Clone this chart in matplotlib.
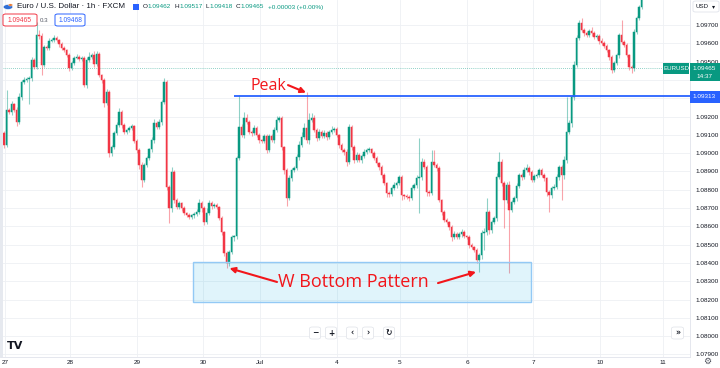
import matplotlib
matplotlib.use("Agg")
import matplotlib.pyplot as plt
from matplotlib.patches import Rectangle, FancyBboxPatch, Circle

# ---------------- data (EUR/USD 1h candles) ----------------
first_open = 1.09110
closes = [
    1.09044, 1.09236, 1.09225, 1.09268, 1.09236, 1.09170, 1.09307, 1.09389, 1.09399,
    1.09405,
    1.09410, 1.09509, 1.09470, 1.09645, 1.09640, 1.09481, 1.09580, 1.09574, 1.09613, 1.09618,
    1.09629, 1.09618, 1.09596, 1.09574, 1.09563, 1.09536, 1.09465, 1.09492, 1.09520, 1.09525,
    1.09515,
    1.09520, 1.09372, 1.09509, 1.09525, 1.09536, 1.09487, 1.09542, 1.09427, 1.09399, 1.09274,
    1.09334, 1.09001, 1.09033, 1.09110, 1.09154, 1.09225, 1.09154, 1.09115, 1.09126, 1.09137,
    1.09148, 1.09066, 1.09017, 1.08935, 1.08853, 1.08935, 1.08973,
    1.09020,
    1.09072, 1.09164, 1.09143, 1.09170, 1.09279, 1.09389, 1.08815, 1.08700, 1.08897, 1.08744,
    1.08705, 1.08727, 1.08700, 1.08673, 1.08662, 1.08651,
    1.08660,
    1.08667, 1.08678, 1.08727, 1.08700, 1.08623, 1.08673, 1.08727, 1.08711,
    1.08715,
    1.08705, 1.08645, 1.08569, 1.08454, 1.08400, 1.08460, 1.08542, 1.08547, 1.08973, 1.09143,
    1.09099, 1.09192, 1.09170, 1.09115, 1.09110, 1.09137,
    1.09099, 1.09072, 1.09066, 1.09093, 1.09017, 1.09093, 1.09072, 1.09126, 1.09181, 1.09192,
    1.09033, 1.08908, 1.08755, 1.08864, 1.08908, 1.08919,
    1.08979, 1.09044, 1.09088, 1.09137, 1.09072, 1.09181, 1.09192, 1.09126, 1.09083, 1.09115,
    1.09093, 1.09110, 1.09088, 1.09115, 1.09126, 1.09132,
    1.09099, 1.09044, 1.09017, 1.09006, 1.08951, 1.09143, 1.09033, 1.08962, 1.08990, 1.08962,
    1.08984, 1.09006, 1.09017, 1.09022, 1.09001, 1.08973,
    1.08946, 1.08924, 1.08880, 1.08837, 1.08782, 1.08777, 1.08809, 1.08826, 1.08837, 1.08869,
    1.08771, 1.08766, 1.08760, 1.08755, 1.08809, 1.08826,
    1.08864, 1.08869, 1.08951, 1.08924, 1.08787, 1.08782, 1.08951, 1.08935, 1.08919, 1.08744,
    1.08678, 1.08634, 1.08623, 1.08596, 1.08542, 1.08558,
    1.08542, 1.08558, 1.08569, 1.08547, 1.08542, 1.08498, 1.08487, 1.08470, 1.08416, 1.08443,
    1.08563, 1.08569, 1.08678, 1.08580, 1.08623, 1.08645,
    1.08869, 1.08951, 1.08837, 1.08744, 1.08826, 1.08689, 1.08733, 1.08755, 1.08820,
    1.08880, 1.08869, 1.08908, 1.08919, 1.08897, 1.08853, 1.08875,
    1.08880, 1.08908, 1.08880,
    1.08864, 1.08787, 1.08771, 1.08809, 1.08815, 1.08869, 1.08924, 1.08880, 1.08962, 1.09115,
    1.09164, 1.09307, 1.09481, 1.09629, 1.09711, 1.09673, 1.09656, 1.09645, 1.09667, 1.09656,
    1.09634,
    1.09640, 1.09613, 1.09602, 1.09585, 1.09563, 1.09525, 1.09454, 1.09492, 1.09536, 1.09645,
    1.09607, 1.09591, 1.09536, 1.09470, 1.09465, 1.09662, 1.09738, 1.09798, 1.09891,
]
# wick lengths beyond the body, in points (0.00001)
upper_wick_pts = [
    12, 109, 10, 18, 8, 14, 20, 12, 15,
    10,
    10, 18, 12, 71, 30, 15, 12, 10, 15, 12, 14, 10, 8, 12, 10, 8, 14, 10, 12, 15,
    10,
    10, 12, 15, 30, 12, 20, 15, 10, 8, 12, 15, 10, 14, 12, 18, 20, 12, 10, 8, 12,
    10, 8, 12, 10, 14, 12, 10,
    10,
    15, 20, 12, 15, 14, 20, 10, 12, 25, 12, 10, 14, 8, 10, 8, 12,
    10,
    10, 15, 20, 12, 10, 25, 15, 10,
    10,
    12, 8, 10, 8, 10, 12, 10, 8, 12, 174, 15, 33, 20, 12, 10, 15,
    12, 10, 8, 14, 10, 12, 10, 15, 20, 12, 10, 8, 12, 15, 10, 12,
    14, 20, 25, 30, 197, 40, 25, 15, 12, 18, 10, 15, 12, 14, 20, 12,
    10, 8, 12, 10, 14, 15, 12, 10, 15, 12, 10, 14, 12, 10, 8, 12,
    10, 8, 12, 10, 8, 12, 10, 15, 12, 14, 10, 8, 10, 12, 15, 12,
    14, 214, 20, 15, 12, 10, 66, 66, 12, 10, 8, 12, 10, 8, 12, 14,
    10, 12, 15, 10, 8, 12, 10, 8, 12, 14, 15, 20, 77, 12, 10, 14,
    20, 55, 15, 12, 14, 20, 12, 10, 15,
    14, 12, 15, 20, 12, 10, 12,
    14, 10, 12,
    10, 8, 12, 10, 14, 15, 12, 10, 20, 192, 15, 12, 20, 14, 16, 25, 12, 10, 14, 20, 12,
    10, 12, 14, 10, 12, 8, 10, 14, 12, 10, 82, 12, 10, 8, 12, 15, 12, 10, 10,
]
lower_wick_pts = [
    15, 12, 10, 14, 12, 20, 10, 15, 12,
    12,
    136, 18, 12, 10, 15, 54, 12, 10, 12, 8, 10, 12, 14, 10, 12, 10, 15, 12, 10, 8,
    12,
    12, 11, 14, 10, 12, 15, 10, 12, 14, 20, 12, 21, 15, 12, 10, 12, 14, 10, 12, 10,
    8, 12, 15, 20, 38, 12, 10,
    12,
    12, 14, 10, 12, 15, 10, 14, 82, 20, 15, 12, 10, 14, 12, 10, 12,
    12,
    14, 10, 12, 20, 15, 10, 12, 14,
    12,
    10, 12, 15, 14, 28, 15, 12, 20, 15, 10, 12, 15, 10, 12, 14, 10,
    12, 14, 10, 12, 15, 12, 10, 14, 12, 10, 15, 20, 44, 12, 14, 10,
    12, 15, 10, 12, 15, 20, 12, 10, 14, 12, 10, 12, 14, 10, 12, 10,
    12, 14, 10, 15, 20, 12, 14, 15, 12, 10, 14, 12, 10, 12, 14, 10,
    12, 14, 15, 12, 20, 15, 12, 10, 14, 12, 25, 15, 12, 14, 10, 12,
    14, 191, 15, 12, 20, 14, 12, 10, 15, 12, 14, 10, 12, 15, 20, 12,
    10, 12, 14, 10, 12, 15, 12, 10, 15, 66, 20, 93, 15, 20, 14, 12,
    15, 12, 14, 153, 15, 344, 12, 10, 14,
    10, 14, 10, 12, 15, 12, 10,
    12, 10, 12,
    15, 20, 93, 15, 12, 10, 14, 136, 20, 15, 12, 20, 14, 12, 10, 12, 14, 10, 12, 14, 10,
    10, 14, 12, 12, 10, 14, 15, 12, 10, 14, 12, 10, 12, 14, 27, 15, 12, 10, 10,
]

day_labels = ["27", "28", "29", "30", "Jul", "4", "5", "6", "7", "10", "11"]
day_positions = [0.4, 26.4, 53.2, 79.6, 102.4, 133.2, 158.4, 185.2, 211.6, 238.4, 263.6]
price_ticks = [1.079, 1.080, 1.081, 1.082, 1.083, 1.084, 1.085, 1.086, 1.087, 1.088,
               1.089, 1.090, 1.091, 1.092, 1.093, 1.094, 1.095, 1.096, 1.097]
hidden_price_labels = [1.093, 1.094]   # covered by the price badges in the original
resistance = 1.09313
last_price = 1.09465
peak_index = 121
bottom1_index, bottom2_index = 89, 190
zone_start, zone_end = 75.6, 210.8
zone_low, zone_high = 1.08186, 1.08405

# ---------------- styling ----------------
GREEN = "#089981"
RED = "#f23645"
ANN = "#f2161b"
BLUE = "#2962ff"
TXT = "#131722"
W, H = 720, 368

fig = plt.figure(figsize=(7.2, 3.68), dpi=100)
fig.patch.set_facecolor("white")
ax = fig.add_axes([0, 11 / H, 690 / W, 357 / H])
ax.set_facecolor("white")

n = min(len(closes), len(upper_wick_pts), len(lower_wick_pts))
opens = [first_open] + closes[:n - 1]
xs = list(range(n))
cols, bots, hts, highs, lows = [], [], [], [], []
for i in range(n):
    o, c = opens[i], closes[i]
    cols.append(GREEN if c >= o else RED)
    bots.append(min(o, c))
    hts.append(abs(c - o))
    highs.append(max(o, c) + upper_wick_pts[i] * 1e-5)
    lows.append(min(o, c) - lower_wick_pts[i] * 1e-5)

ax.vlines(xs, lows, highs, colors=cols, lw=0.8, alpha=0.45, zorder=3)
ax.bar(xs, hts, bottom=bots, width=0.74, color=cols, edgecolor=cols, lw=0.35, zorder=4)

ax.set_xlim(-1.6, 274.4)
ax.set_ylim(1.07886, 1.09837)

ax.set_yticks(price_ticks)
ax.set_yticklabels(["" if any(abs(p - h) < 1e-9 for h in hidden_price_labels) else "%.5f" % p
                    for p in price_ticks])
ax.yaxis.tick_right()
ax.set_xticks(day_positions)
ax.set_xticklabels(day_labels)
ax.tick_params(axis="y", length=0, pad=4, labelsize=4.6, labelcolor=TXT)
ax.tick_params(axis="x", length=0, pad=2.5, labelsize=4.6, labelcolor=TXT)
for lab in ax.get_xticklabels() + ax.get_yticklabels():
    lab.set_fontfamily("Liberation Sans")
ax.grid(True, color="#eef0f4", lw=0.6, zorder=0)
ax.set_axisbelow(True)
for s in ax.spines.values():
    s.set_visible(False)
ax.spines["right"].set_visible(True)
ax.spines["right"].set_color("#e0e3eb")
ax.spines["right"].set_linewidth(0.6)
ax.spines["bottom"].set_visible(True)
ax.spines["bottom"].set_color("#e0e3eb")
ax.spines["bottom"].set_linewidth(0.6)

# last price dotted line
ax.axhline(last_price, color=GREEN, lw=0.6, ls=(0, (1, 1.5)), alpha=0.6, zorder=2)

# resistance line
ax.plot([92, 274.4], [resistance, resistance], color=BLUE, lw=1.3, zorder=6,
        solid_capstyle="butt")

# W-bottom zone
ax.add_patch(Rectangle((zone_start, zone_low), zone_end - zone_start, zone_high - zone_low,
                       facecolor=(0.0, 0.667, 0.894, 0.12), edgecolor="#93c9f5",
                       lw=1.0, zorder=5))

# annotations
ax.text(105.6, 1.09345, "Peak", color=ANN, fontsize=11.5, family="Open Sans",
        ha="center", va="baseline", zorder=7)
arrow = dict(arrowstyle="-|>", color=ANN, lw=1.5, mutation_scale=8, shrinkA=0, shrinkB=0)
ax.annotate("", xy=(peak_index - 0.2, highs[peak_index] - 0.00003), xytext=(113.6, 1.09372),
            arrowprops=arrow, zorder=7)
ax.text(139.6, 1.08268, "W Bottom Pattern", color=ANN, fontsize=13, family="Open Sans",
        ha="center", va="baseline", zorder=7)
ax.annotate("", xy=(bottom1_index + 1.2, lows[bottom1_index] - 0.00001), xytext=(109.2, 1.08296),
            arrowprops=arrow, zorder=7)
ax.annotate("", xy=(bottom2_index - 1.2, lows[bottom2_index] + 0.00001), xytext=(173.6, 1.0829),
            arrowprops=arrow, zorder=7)


# ---------------- chrome (figure pixel helpers) ----------------
def fx(x):
    return x / W


def fy(y):
    return 1 - y / H


def box(x0, y0, x1, y1, fc, ec=None, lw=0.0, z=10, rounded=False):
    if rounded:
        p = FancyBboxPatch((fx(x0), fy(y1)), fx(x1) - fx(x0), fy(y0) - fy(y1),
                           boxstyle="round,pad=0,rounding_size=0.004",
                           transform=fig.transFigure, facecolor=fc,
                           edgecolor=ec if ec else fc, lw=lw, zorder=z)
    else:
        p = Rectangle((fx(x0), fy(y1)), fx(x1) - fx(x0), fy(y0) - fy(y1),
                      transform=fig.transFigure, facecolor=fc,
                      edgecolor=ec if ec else fc, lw=lw, zorder=z)
    fig.add_artist(p)


def t(x, y, s, size=5, color=TXT, ha="left", va="center", family="Liberation Sans",
      weight="normal", z=11):
    fig.text(fx(x), fy(y), s, fontsize=size, color=color, ha=ha, va=va,
             family=family, weight=weight, zorder=z)


# left toolbar edge
box(0, 0, 2.5, 357, "#e6e9ef", z=9)

# header row 1
fig.add_artist(Circle((fx(8), fy(7)), 0.0065, transform=fig.transFigure,
                      facecolor="#2f6fd6", edgecolor="white", lw=0.3, zorder=11))
fig.add_artist(Circle((fx(10.5), fy(5)), 0.003, transform=fig.transFigure,
                      facecolor="#e8762b", edgecolor="white", lw=0.2, zorder=12))
t(17, 7, "Euro / U.S. Dollar · 1h · FXCM", size=5.8)
box(133, 3.5, 139, 10, BLUE, z=11)
hdr = [(142.5, "O", TXT), (147.5, "1.09462", GREEN), (174.5, "H", TXT), (179.3, "1.09517", GREEN),
       (206, "L", TXT), (209.5, "1.09418", GREEN), (236, "C", TXT), (240.5, "1.09465", GREEN),
       (268, "+0.00003 (+0.00%)", GREEN)]
for x, s, c in hdr:
    t(x, 7, s, size=4.6, color=c)

# header row 2
box(3, 14, 37, 26, "white", ec=RED, lw=0.7, rounded=True)
t(20, 20, "1.09465", size=4.8, color=RED, ha="center")
t(44, 20, "0.3", size=4.4, color="#555a66", ha="center")
box(55, 14, 85, 26, "white", ec=BLUE, lw=0.7, rounded=True)
t(70, 20, "1.09468", size=4.8, color=BLUE, ha="center")

# right price-scale badges
box(693, 1, 719, 12, "white", ec="#e0e3eb", lw=0.6, rounded=True)
t(696, 6.5, "USD", size=4.4)
t(714, 6.5, "▾", size=4.4, ha="center", family="DejaVu Sans")
box(663, 63.5, 689, 74, GREEN, z=12)
t(676, 68.5, "EURUSD", size=4.4, color="white", ha="center", z=13)
box(690, 63, 719.5, 81, GREEN, z=12)
t(704.5, 68.5, "1.09465", size=4.6, color="white", ha="center", z=13)
t(704.5, 76, "14:37", size=4.6, color="white", ha="center", z=13)
box(690, 91, 719.5, 102.5, BLUE, z=12)
t(704.5, 96.8, "1.09313", size=4.6, color="white", ha="center", z=13)

# navigation buttons
for xc, sym in [(315, "−"), (331, "+"), (352, "‹"), (368, "›"), (389, "↻")]:
    box(xc - 5.5, 327, xc + 5.5, 339, "white", ec="#dfe2e8", lw=0.5, rounded=True, z=10)
    t(xc, 333, sym, size=5.5, ha="center", family="DejaVu Sans", weight="bold", z=11)
box(671.5, 327, 683.5, 339, "white", ec="#dfe2e8", lw=0.5, rounded=True, z=10)
t(677.5, 333, "»", size=5.5, ha="center", family="DejaVu Sans", weight="bold")

# TradingView logo and settings gear
t(7, 346, "TV", size=8, weight="bold", family="DejaVu Sans", color="#131722")
t(707, 361.5, "⚙", size=6.5, ha="center", family="DejaVu Sans", color="#50535e")

fig.savefig("out.png", dpi=100, facecolor="white")
